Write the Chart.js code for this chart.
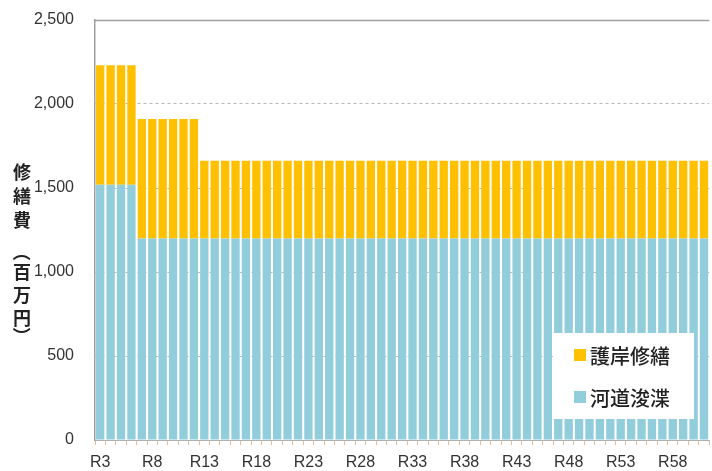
<!DOCTYPE html>
<html>
<head>
<meta charset="utf-8">
<script src="https://cdn.jsdelivr.net/npm/chart.js@4.4.0/dist/chart.umd.min.js"></script>
<style>
  html, body { margin: 0; padding: 0; background: #fff; }
  #wrap { width: 712px; height: 471px; position: relative; }
</style>
</head>
<body>
<div id="wrap"><canvas id="chart" width="712" height="471"></canvas></div>
<script>
// categories R3 .. R61
const years = [];
for (let i = 3; i <= 61; i++) years.push('R' + i);

// 河道浚渫 (bottom, blue)
const dredging = [
  1520, 1520, 1520, 1520,
  1200, 1200, 1200, 1200, 1200, 1200,
  1200, 1200, 1200, 1200, 1200, 1200, 1200, 1200, 1200, 1200,
  1200, 1200, 1200, 1200, 1200, 1200, 1200, 1200, 1200, 1200,
  1200, 1200, 1200, 1200, 1200, 1200, 1200, 1200, 1200, 1200,
  1200, 1200, 1200, 1200, 1200, 1200, 1200, 1200, 1200, 1200,
  1200, 1200, 1200, 1200, 1200, 1200, 1200, 1200, 1200
];
// 護岸修繕 (top, orange)
const revetment = [
  710, 710, 710, 710,
  710, 710, 710, 710, 710, 710,
  462, 462, 462, 462, 462, 462, 462, 462, 462, 462,
  462, 462, 462, 462, 462, 462, 462, 462, 462, 462,
  462, 462, 462, 462, 462, 462, 462, 462, 462, 462,
  462, 462, 462, 462, 462, 462, 462, 462, 462, 462,
  462, 462, 462, 462, 462, 462, 462, 462, 462
];
const yTicks = [0, 500, 1000, 1500, 2000, 2500];
const yTitle = ['修', '繕', '費', '（', '百', '万', '円', '）'];

const BLUE = '#92CDDC';
const ORANGE = '#FFC000';

// white legend box drawn inside the plot
const legendBox = {
  id: 'legendBox',
  afterDatasetsDraw(chart) {
    const ctx = chart.ctx;
    ctx.save();
    ctx.fillStyle = '#fff';
    ctx.fillRect(553, 333, 141, 86);
    const items = [chart.data.datasets[1], chart.data.datasets[0]];
    items.forEach((ds, i) => {
      const cy = 355 + i * 42;
      ctx.fillStyle = ds.backgroundColor;
      ctx.fillRect(574, cy - 6, 12, 12);
      ctx.fillStyle = '#222';
      ctx.font = '500 20px "Noto Sans CJK JP"';
      ctx.textBaseline = 'middle';
      ctx.textAlign = 'left';
      ctx.fillText(ds.label, 590, cy + 1);
    });
    ctx.restore();
  }
};

// top border, vertical axis title
const frame = {
  id: 'frame',
  afterDraw(chart) {
    const ctx = chart.ctx;
    const a = chart.chartArea;
    ctx.save();
    ctx.strokeStyle = '#a0a0a0';
    ctx.lineWidth = 1.5;
    ctx.beginPath();
    ctx.moveTo(a.left, a.top + 0.5);
    ctx.lineTo(a.right, a.top + 0.5);
    ctx.stroke();

    ctx.fillStyle = '#222';
    ctx.font = 'bold 18px "Noto Sans CJK JP"';
    ctx.textAlign = 'center';
    ctx.textBaseline = 'middle';
    const ys = [172, 196, 220, 252, 272, 295, 318, 336];
    yTitle.forEach((ch, i) => {
      if (ch === '（' || ch === '）') {
        ctx.save();
        ctx.translate(22, ys[i]);
        ctx.rotate(Math.PI / 2);
        ctx.fillText(ch, 0, 0);
        ctx.restore();
      } else {
        ctx.fillText(ch, 22, ys[i]);
      }
    });
    ctx.restore();
  }
};

new Chart(document.getElementById('chart'), {
  type: 'bar',
  data: {
    labels: years,
    datasets: [
      {
        label: '河道浚渫',
        data: dredging,
        backgroundColor: BLUE,
        barPercentage: 0.8,
        categoryPercentage: 1.0
      },
      {
        label: '護岸修繕',
        data: revetment,
        backgroundColor: ORANGE,
        barPercentage: 0.8,
        categoryPercentage: 1.0
      }
    ]
  },
  options: {
    responsive: false,
    animation: false,
    layout: { padding: { top: 20, right: 0, left: 0, bottom: 0 } },
    plugins: {
      legend: { display: false },
      tooltip: { enabled: false }
    },
    scales: {
      x: {
        stacked: true,
        grid: {
          offset: true,
          drawOnChartArea: false,
          drawTicks: true,
          tickLength: 5,
          color: '#d9bfa0'
        },
        border: { color: '#b0b0b0', width: 1 },
        ticks: {
          autoSkip: false,
          maxRotation: 0,
          padding: 8,
          color: '#333',
          font: { family: '"Liberation Sans", Arial', size: 16 },
          callback: function(val, idx) {
            return idx % 5 === 0 ? years[idx] : '';
          }
        },
        afterFit(scale) { scale.height = 31; }
      },
      y: {
        stacked: true,
        min: 0,
        max: 2500,
        afterBuildTicks(scale) {
          scale.ticks = yTicks.map(v => ({ value: v }));
        },
        grid: {
          drawTicks: false,
          color: '#b8b8b8',
          lineWidth: 1
        },
        border: { color: '#a0a0a0', width: 1.5, dash: [3, 3] },
        ticks: {
          padding: 21,
          color: '#333',
          font: { family: '"Liberation Sans", Arial', size: 16 },
          callback: v => v.toLocaleString('en-US')
        },
        afterFit(scale) {
          scale.width = 95;
          scale.paddingTop = 9;
          scale.paddingBottom = 9;
        }
      }
    }
  },
  plugins: [legendBox, frame]
});
</script>
</body>
</html>
